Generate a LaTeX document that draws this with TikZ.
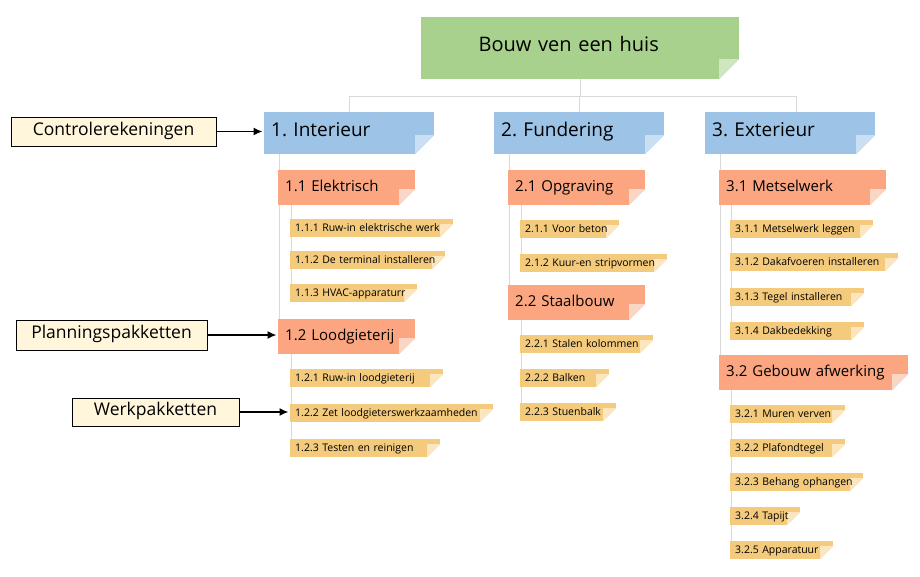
\documentclass[tikz,border=0pt]{standalone}
\usepackage{fontspec}
\setmainfont{Open Sans}
\frenchspacing
\usetikzlibrary{arrows.meta,positioning,calc,backgrounds}
\definecolor{wbsGreen}{HTML}{A9D18E}
\definecolor{wbsGreenFold}{HTML}{CFE7C1}
\definecolor{wbsBlue}{HTML}{9DC3E6}
\definecolor{wbsBlueFold}{HTML}{CADFF2}
\definecolor{wbsSalmon}{HTML}{FCA681}
\definecolor{wbsSalmonFold}{HTML}{FAD6C7}
\definecolor{wbsYellow}{HTML}{F4CA7C}
\definecolor{wbsYellowFold}{HTML}{FCE6BF}
\definecolor{wbsCream}{HTML}{FFF6DC}
\definecolor{wbsLine}{HTML}{D9D9D9}

\tikzset{
  folded/.style 2 args={path picture={
      \fill[white] (path picture bounding box.south east) -- ++(-#2,0pt) -- ++(#2,#2) -- cycle;
      \fill[#1] (path picture bounding box.south east) ++(-#2,0pt) -- ++(0pt,#2) -- ++(#2,0pt) -- cycle;}},
  wbsbox/.style={rectangle,anchor=north west,align=left,inner ysep=0pt,text=black,
    text height=.95em,text depth=.24em},
  rootbox/.style={wbsbox,fill=wbsGreen,folded={wbsGreenFold}{20pt},align=center,
    inner xsep=0pt,minimum height=62pt,font=\fontsize{20}{24}\selectfont},
  phasebox/.style={wbsbox,fill=wbsBlue,folded={wbsBlueFold}{19pt},
    inner xsep=7pt,minimum height=42pt,font=\fontsize{19}{23}\selectfont},
  accountbox/.style={wbsbox,fill=wbsSalmon,folded={wbsSalmonFold}{16pt},
    inner xsep=7pt,minimum height=35pt,font=\fontsize{15}{18}\selectfont},
  taskbox/.style={wbsbox,fill=wbsYellow,folded={wbsYellowFold}{13pt},
    inner xsep=5pt,minimum height=18pt,font=\fontsize{10.5}{12.5}\selectfont},
  legendbox/.style={draw=black,line width=0.9pt,fill=wbsCream,inner sep=0pt,
    text height=.95em,text depth=.24em,font=\fontsize{17.5}{21}\selectfont},
  conn/.style={draw=wbsLine,line width=1pt},
  callout/.style={-{Latex[length=9pt,width=8pt]},line width=1.5pt,shorten >=1.5pt}
}

\begin{document}
\begin{tikzpicture}[x=1pt,y=-1pt]
  \useasboundingbox (0,0) rectangle (920,577);

  \node[rootbox,text width=318pt] (root) at (421,17) {Bouw ven een huis\hspace*{23pt}};

  \node[phasebox,text width=156pt] (int)  at (264,112) {1. Interieur};
  \node[phasebox,text width=156pt] (fund) at (494,112) {2. Fundering};
  \node[phasebox,text width=156pt] (ext)  at (705,112) {3. Exterieur};

  \node[accountbox,text width=123pt] (elek)   at (278,170) {1.1 Elektrisch};
  \node[accountbox,text width=123pt] (lood)   at (278,319) {1.2 Loodgieterij};
  \node[accountbox,text width=123pt] (opgr)   at (508,170) {2.1 Opgraving};
  \node[accountbox,text width=123pt] (staal)  at (508,285) {2.2 Staalbouw};
  \node[accountbox,text width=153pt] (mets)   at (719,170) {3.1 Metselwerk};
  \node[accountbox,text width=175pt] (gebouw) at (719,355) {3.2 Gebouw afwerking};

  \node[taskbox,text width=153pt] (t111) at (290,219) {1.1.1 Ruw-in elektrische werk};
  \node[taskbox,text width=145pt] (t112) at (290,251) {1.1.2 De terminal installeren};
  \node[taskbox,text width=117pt] (t113) at (290,284) {1.1.3 HVAC-apparaturr};
  \node[taskbox,text width=143pt] (t121) at (290,369) {1.2.1 Ruw-in loodgieterij};
  \node[taskbox,text width=193pt] (t122) at (290,404) {1.2.2 Zet loodgieterswerkzaamheden};
  \node[taskbox,text width=140pt] (t123) at (290,439) {1.2.3 Testen en reinigen};

  \node[taskbox,text width=89pt]  (t211) at (520,220) {2.1.1 Voor beton};
  \node[taskbox,text width=137pt] (t212) at (520,254) {2.1.2 Kuur-en stripvormen};
  \node[taskbox,text width=123pt] (t221) at (520,335) {2.2.1 Stalen kolommen};
  \node[taskbox,text width=79pt]  (t222) at (520,369) {2.2.2 Balken};
  \node[taskbox,text width=86pt]  (t223) at (520,403) {2.2.3 Stuenbalk};

  \node[taskbox,text width=133pt] (t311) at (730,220) {3.1.1 Metselwerk leggen};
  \node[taskbox,text width=158pt] (t312) at (730,253) {3.1.2 Dakafvoeren installeren};
  \node[taskbox,text width=124pt] (t313) at (730,288) {3.1.3 Tegel installeren};
  \node[taskbox,text width=124pt] (t314) at (730,322) {3.1.4 Dakbedekking};
  \node[taskbox,text width=105pt] (t321) at (730,405) {3.2.1 Muren verven};
  \node[taskbox,text width=105pt] (t322) at (730,439) {3.2.2 Plafondtegel};
  \node[taskbox,text width=123pt] (t323) at (730,473) {3.2.3 Behang ophangen};
  \node[taskbox,text width=60pt]  (t324) at (730,507) {3.2.4 Tapijt};
  \node[taskbox,text width=93pt]  (t325) at (730,541) {3.2.5 Apparatuur};

  \node[legendbox,minimum width=205pt,minimum height=29pt] (ctrl) at (113.5,131.5) {Controlerekeningen};
  \node[legendbox,minimum width=191pt,minimum height=30pt] (plan) at (111.5,335) {Planningspakketten};
  \node[legendbox,minimum width=167pt,minimum height=28pt] (werk) at (155.5,412) {Werkpakketten};

  \begin{scope}[on background layer]
    \draw[conn] (root.south) -- ++(0,17) -| (int.north);
    \draw[conn] (root.south) -- ++(0,17) -| (fund.north);
    \draw[conn] (root.south) -- ++(0,17) -| ([xshift=6pt]ext.north);
    \draw[conn] ([xshift=1.5pt]elek.north west |- int.south) -- ([xshift=1.5pt]lood.west);
    \draw[conn] ([xshift=1.5pt]opgr.north west |- fund.south) -- ([xshift=1.5pt]staal.west);
    \draw[conn] ([xshift=1.5pt]mets.north west |- ext.south) -- ([xshift=1.5pt]gebouw.west);
    \draw[conn] ([xshift=1.5pt]t111.north west |- elek.south) -- ([xshift=1.5pt]t113.west);
    \draw[conn] ([xshift=1.5pt]t121.north west |- lood.south) -- ([xshift=1.5pt]t123.west);
    \draw[conn] ([xshift=1.5pt]t211.north west |- opgr.south) -- ([xshift=1.5pt]t212.west);
    \draw[conn] ([xshift=1.5pt]t221.north west |- staal.south) -- ([xshift=1.5pt]t223.west);
    \draw[conn] ([xshift=1.5pt]t311.north west |- mets.south) -- ([xshift=1.5pt]t314.west);
    \draw[conn] ([xshift=1.5pt]t321.north west |- gebouw.south) -- ([xshift=1.5pt]t325.west);
  \end{scope}

  \draw[callout] (ctrl.east) -- (ctrl.east -| int.west);
  \draw[callout] (plan.east) -- (plan.east -| lood.west);
  \draw[callout] (werk.east) -- (werk.east -| t122.west);
\end{tikzpicture}
\end{document}
